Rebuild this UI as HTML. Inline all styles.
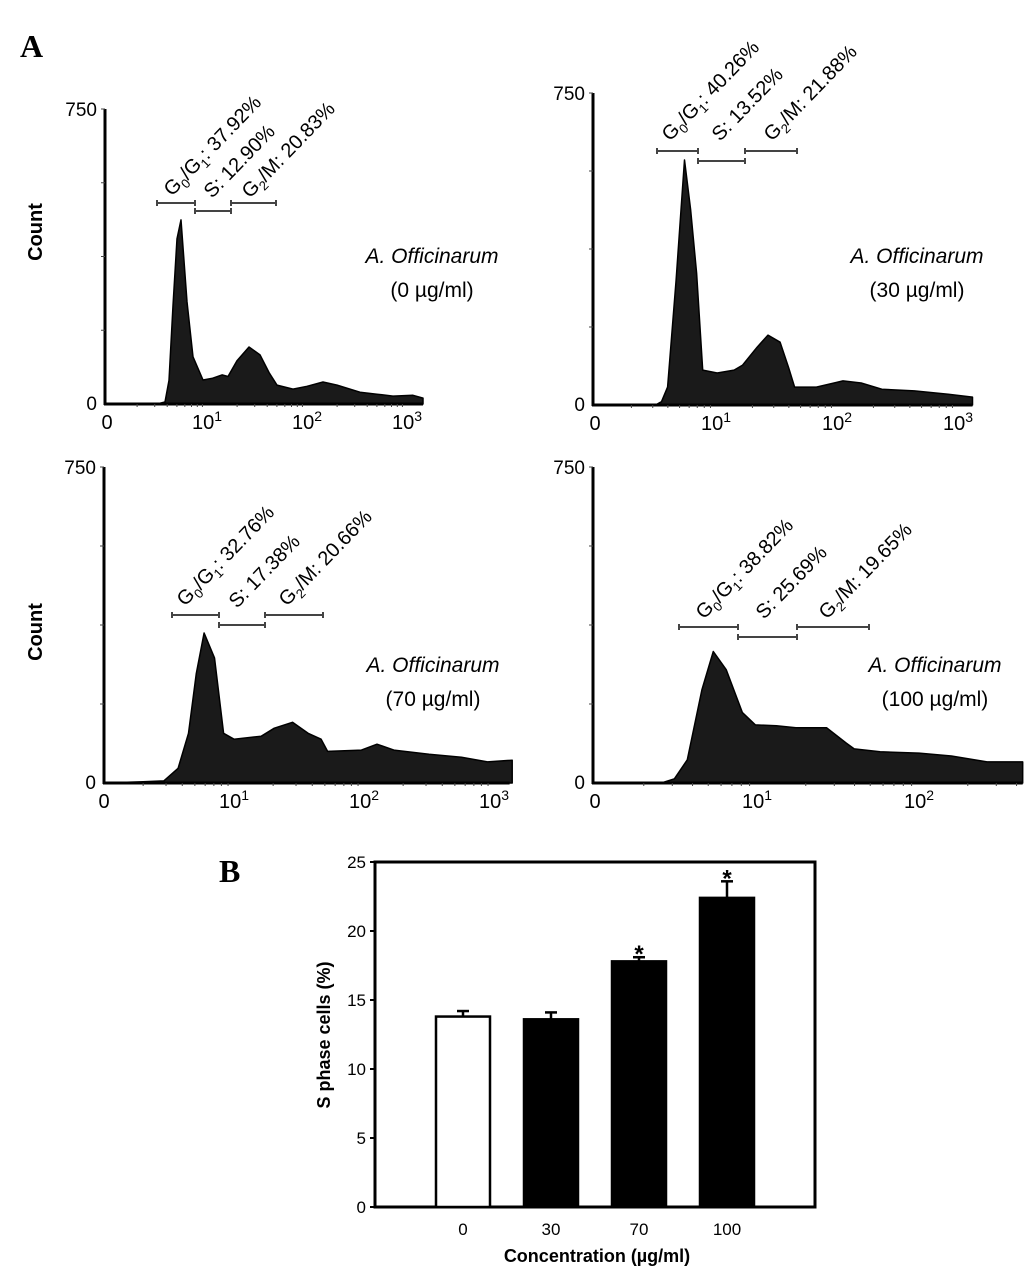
<!DOCTYPE html>
<html><head><meta charset="utf-8"><style>
html,body{margin:0;padding:0;background:#fff}
svg{display:block;font-family:"Liberation Sans",Arial,sans-serif}
</style></head><body>
<svg id="fig" width="1033" height="1275" viewBox="0 0 1033 1275" xmlns="http://www.w3.org/2000/svg">
<text x="20" y="57" font-family="Liberation Serif,serif" font-weight="bold" font-size="32">A</text>
<text x="219" y="882" font-family="Liberation Serif,serif" font-weight="bold" font-size="32">B</text>
<text transform="translate(42,232) rotate(-90)" text-anchor="middle" font-weight="bold" font-size="20">Count</text>
<text transform="translate(42,632) rotate(-90)" text-anchor="middle" font-weight="bold" font-size="20">Count</text>
<g id="hists"></g>
<g id="bars"></g>
</svg>
<script>
// ---- Histogram data (u = log-decade position, 0 = "0" tick) ----
const hist0U = [0,0.5,0.58,0.62,0.66,0.70,0.74,0.80,0.86,0.96,1.05,1.15,1.21,1.30,1.42,1.53,1.62,1.70,1.86,2.0,2.16,2.3,2.53,2.7,2.86,3.06,3.16];
const hist0C = [0,0,5,60,250,420,468,260,120,61,65,74,70,110,145,125,80,48,38,45,56,48,30,25,20,22,15];
const hist30U = [0,0.5,0.55,0.60,0.67,0.74,0.79,0.84,0.89,1.01,1.15,1.22,1.34,1.43,1.53,1.60,1.65,1.83,2.05,2.2,2.37,2.64,2.92,3.12];
const hist30C = [0,0,8,43,300,589,470,317,84,77,84,96,139,168,151,90,43,43,58,53,38,34,26,19];
const hist70U = [0,0.3,0.46,0.57,0.65,0.71,0.77,0.85,0.92,1.0,1.21,1.31,1.45,1.57,1.67,1.72,1.98,2.1,2.23,2.5,2.75,2.95,3.14];
const hist70C = [0,3,5,35,118,260,356,297,118,104,111,130,144,118,104,75,78,92,78,68,61,50,54];
const hist100U = [0,0.41,0.49,0.57,0.66,0.73,0.81,0.91,0.99,1.12,1.24,1.43,1.55,1.6,1.76,2.0,2.2,2.42,2.64];
const hist100C = [0,0,10,55,221,312,269,167,138,136,131,131,95,81,74,71,64,50,50];
const histTickLabels = ["0","10","10","10"];
const histTickExp = ["","1","2","3"];
const gateNames = ["G0/G1","S","G2/M"];
const gate0 = ["37.92%","12.90%","20.83%"];
const gate30 = ["40.26%","13.52%","21.88%"];
const gate70 = ["32.76%","17.38%","20.66%"];
const gate100 = ["38.82%","25.69%","19.65%"];
const concLabels = ["0 µg/ml","30 µg/ml","70 µg/ml","100 µg/ml"];

// ---- Bar chart data ----
const barCats = ["0","30","70","100"];
const barVals = [13.8,13.6,17.8,22.4];
const barErrs = [0.4,0.5,0.3,1.2];
const barSig = [false,false,true,true];
const barYTicks = [0,5,10,15,20,25];

const NS="http://www.w3.org/2000/svg";
function mk(tag,attrs,parent){const e=document.createElementNS(NS,tag);for(const k in attrs)e.setAttribute(k,attrs[k]);parent.appendChild(e);return e;}

const panels=[
 {u:hist0U,c:hist0C,g:gate0,conc:concLabels[0],ax:105,x0:107,dec:100,y0:404,yt:109,uEnd:3.16,ticks:4,
  br:[[157,195,203],[195,231,211],[231,276,203]],lab:[[172,197],[212,199],[250,199]],txt:[432,263]},
 {u:hist30U,c:hist30C,g:gate30,conc:concLabels[1],ax:593,x0:595,dec:121,y0:405,yt:93,uEnd:3.12,ticks:4,
  br:[[657,698,151],[698,745,161],[745,797,151]],lab:[[670,142],[720,142],[772,142]],txt:[917,263]},
 {u:hist70U,c:hist70C,g:gate70,conc:concLabels[2],ax:104,x0:104,dec:130,y0:783,yt:467,uEnd:3.12,ticks:4,
  br:[[172,219,615],[219,265,625],[265,323,615]],lab:[[185,607],[237,609],[287,607]],txt:[433,672]},
 {u:hist100U,c:hist100C,g:gate100,conc:concLabels[3],ax:593,x0:595,dec:162,y0:783,yt:467,uEnd:2.64,ticks:3,
  br:[[679,738,627],[738,797,637],[797,869,627]],lab:[[704,620],[764,620],[827,620]],txt:[935,672]}
];
const H=document.getElementById('hists');
panels.forEach((p,pi)=>{
  const g=mk('g',{},H);
  
  
  const X=u=>p.x0+u*p.dec, Y=c=>p.y0-c/750*(p.y0-p.yt);
  let d='M'+X(p.u[0])+','+p.y0;
  p.u.forEach((u,i)=>{d+=' L'+X(u).toFixed(1)+','+Y(p.c[i]).toFixed(1);});
  d+=' L'+X(p.u[p.u.length-1])+','+p.y0+' Z';
  const area=mk('path',{d:d,fill:'#1a1a1a',stroke:'#000','stroke-width':1.5,'stroke-linejoin':'round'},g);
  
  
  const xEnd=X(p.uEnd);
  mk('line',{x1:p.ax,y1:p.yt,x2:p.ax,y2:p.y0+1,stroke:'#000','stroke-width':3},g);
  mk('line',{x1:p.ax-1,y1:p.y0,x2:xEnd,y2:p.y0,stroke:'#000','stroke-width':3},g);
  for(let k=1;k<=4;k++){const y=p.y0-k*(p.y0-p.yt)/4;mk('line',{x1:p.ax-4,y1:y,x2:p.ax,y2:y,stroke:'#444','stroke-width':1},g);}
  for(let dd=0;dd<p.uEnd;dd++){for(let m=2;m<10;m++){const u=dd+Math.log10(m);if(u<p.uEnd)mk('line',{x1:X(u),y1:p.y0,x2:X(u),y2:p.y0+3,stroke:'#444','stroke-width':1},g);}}
  const l0=mk('text',{x:p.ax-8,y:p.y0+6,'text-anchor':'end','font-size':19},g);l0.textContent='0';
  
  const l1=mk('text',{x:p.ax-8,y:p.yt+7,'text-anchor':'end','font-size':19},g);l1.textContent='750';
  
  for(let t=0;t<p.ticks;t++){
    const tx=mk('text',{x:X(t),y:p.y0+25,'text-anchor':'middle','font-size':20},g);
    
    
    tx.appendChild(document.createTextNode(histTickLabels[t]));
    if(histTickExp[t]){const s=mk('tspan',{dy:-8,'font-size':14},tx);s.textContent=histTickExp[t];}
  }
  p.br.forEach(b=>{
    const bg=mk('g',{stroke:'#444','stroke-width':2},g);
    
    
    mk('line',{x1:b[0],y1:b[2],x2:b[1],y2:b[2]},bg);
    mk('line',{x1:b[0],y1:b[2]-3,x2:b[0],y2:b[2]+3},bg);
    mk('line',{x1:b[1],y1:b[2]-3,x2:b[1],y2:b[2]+3},bg);
  });
  p.lab.forEach((L,i)=>{
    const t=mk('text',{transform:`translate(${L[0]},${L[1]}) rotate(-46)`,'font-size':20},g);
    
    
    const name=gateNames[i];
    if(name==='G0/G1'){
      t.appendChild(document.createTextNode('G'));
      let s=mk('tspan',{dy:5,'font-size':13},t);s.textContent='0';
      s=mk('tspan',{dy:-5},t);s.textContent='/G';
      s=mk('tspan',{dy:5,'font-size':13},t);s.textContent='1';
      s=mk('tspan',{dy:-5},t);s.textContent=': '+p.g[i];
    }else if(name==='G2/M'){
      t.appendChild(document.createTextNode('G'));
      let s=mk('tspan',{dy:5,'font-size':13},t);s.textContent='2';
      s=mk('tspan',{dy:-5},t);s.textContent='/M: '+p.g[i];
    }else t.textContent='S: '+p.g[i];
  });
  const a=mk('text',{x:p.txt[0],y:p.txt[1],'text-anchor':'middle','font-size':21,'font-style':'italic'},g);
  a.textContent='A. Officinarum';
  
  const c=mk('text',{x:p.txt[0],y:p.txt[1]+34,'text-anchor':'middle','font-size':21},g);
  c.textContent='('+p.conc+')';
  
});

// ---- Bar chart ----
const B=document.getElementById('bars');
const bx0=375,bx1=815,by0=1207,byt=862;
const yS=v=>by0-v/25*(by0-byt);
const bandStart=436,bandStep=88,barW=54;
const xS=i=>bandStart+i*bandStep;
mk('rect',{x:bx0,y:byt,width:bx1-bx0,height:by0-byt,fill:'none',stroke:'#000','stroke-width':3},B);
barYTicks.forEach(v=>{
  mk('line',{x1:bx0-5,y1:yS(v),x2:bx0,y2:yS(v),stroke:'#000','stroke-width':2},B);
  const t=mk('text',{x:bx0-9,y:yS(v)+6,'text-anchor':'end','font-size':17},B);t.textContent=v;
  
});
barVals.forEach((v,i)=>{
  const x=xS(i);
  const ex=x+barW/2, et=yS(v+barErrs[i]);
  mk('line',{x1:ex,y1:yS(v),x2:ex,y2:et,stroke:'#000','stroke-width':2.5},B);
  mk('line',{x1:ex-6,y1:et,x2:ex+6,y2:et,stroke:'#000','stroke-width':2.5},B);
  const r=mk('rect',{x:x,y:yS(v),width:barW,height:by0-yS(v),fill:i===0?'#fff':'#000',stroke:'#000','stroke-width':2.5},B);
  
  
  if(barSig[i]){const s=mk('text',{x:ex,y:et+5,'text-anchor':'middle','font-size':24,'font-weight':'bold'},B);s.textContent='*';
    }
  const l=mk('text',{x:ex,y:1235,'text-anchor':'middle','font-size':17},B);l.textContent=barCats[i];
  
});
const xt=mk('text',{x:597,y:1262,'text-anchor':'middle','font-size':18,'font-weight':'bold'},B);
xt.textContent='Concentration (µg/ml)';

const yt=mk('text',{transform:'translate(330,1035) rotate(-90)','text-anchor':'middle','font-size':18,'font-weight':'bold'},B);
yt.textContent='S phase cells (%)';

</script>
</body></html>
